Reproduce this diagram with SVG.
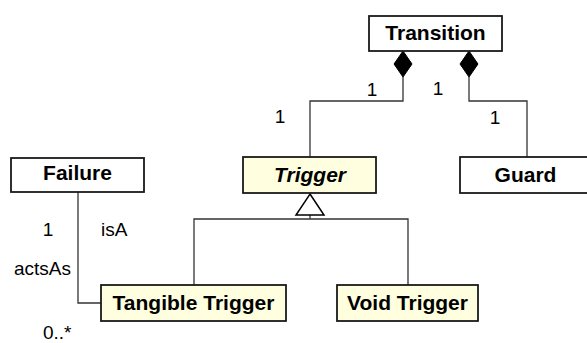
<svg xmlns="http://www.w3.org/2000/svg" width="587" height="343" viewBox="0 0 587 343">
  <style>
    .box { fill: #ffffff; stroke: #1a1a1a; stroke-width: 1.8; }
    .trig { fill: #ffffe0; }
    .name { font-family: "Liberation Sans", Arial, sans-serif; font-size: 21px; font-weight: bold; fill: #000; text-anchor: middle; }
    .abstract { font-style: italic; }
    .lbl { font-family: "Liberation Sans", Arial, sans-serif; font-size: 19px; fill: #000; }
    .edge { fill: none; stroke: #333; stroke-width: 1.3; }
    .comp { fill: #000; stroke: #000; stroke-width: 1; }
    .gen { fill: #fff; stroke: #000; stroke-width: 1.5; }
  </style>

  <rect width="587" height="343" fill="#ffffff"/>

  <g id="connectors">
    <!-- Transition composes Trigger -->
    <polyline class="edge" points="403,77 403,101 310,101 310,157"/>
    <path class="comp" d="M403,51 L412,64 L403,77 L394,64 Z"/>
    <!-- Transition composes Guard -->
    <polyline class="edge" points="469,77 469,101 527,101 527,157"/>
    <path class="comp" d="M469,51 L478,64 L469,77 L460,64 Z"/>
    <!-- Generalization of Trigger -->
    <polyline class="edge" points="194,285 194,219 408,219 408,285"/>
    <line class="edge" x1="310" y1="215" x2="310" y2="219"/>
    <path class="gen" d="M310,194 L324,215 L296,215 Z"/>
    <!-- Failure to Tangible Trigger -->
    <polyline class="edge" points="78,192 78,303 101,303"/>
    <!-- multiplicities and roles -->
    <text class="lbl" x="372" y="96" text-anchor="middle">1</text>
    <text class="lbl" x="280" y="123" text-anchor="middle">1</text>
    <text class="lbl" x="438" y="95" text-anchor="middle">1</text>
    <text class="lbl" x="495" y="124" text-anchor="middle">1</text>
    <text class="lbl" x="48" y="236" text-anchor="middle">1</text>
    <text class="lbl" x="101" y="236">isA</text>
    <text class="lbl" x="14" y="275">actsAs</text>
    <text class="lbl" x="43" y="339">0..*</text>
  </g>

  <g id="transition">
    <rect class="box" x="369" y="16" width="133" height="35"/>
    <text class="name" x="435.5" y="40">Transition</text>
  </g>

  <g id="trigger">
    <rect class="box trig" x="243" y="157" width="133" height="36"/>
    <text class="name abstract" x="310" y="182">Trigger</text>
  </g>

  <g id="guard">
    <rect class="box" x="460" y="157" width="131" height="36"/>
    <text class="name" x="525.5" y="182">Guard</text>
  </g>

  <g id="failure">
    <rect class="box" x="11" y="158" width="133" height="34"/>
    <text class="name" x="77.5" y="180">Failure</text>
  </g>

  <g id="tangible-trigger">
    <rect class="box trig" x="101" y="285" width="185" height="36"/>
    <text class="name" x="193.5" y="310">Tangible Trigger</text>
  </g>

  <g id="void-trigger">
    <rect class="box trig" x="337" y="285" width="141" height="36"/>
    <text class="name" x="407.5" y="310">Void Trigger</text>
  </g>
</svg>
